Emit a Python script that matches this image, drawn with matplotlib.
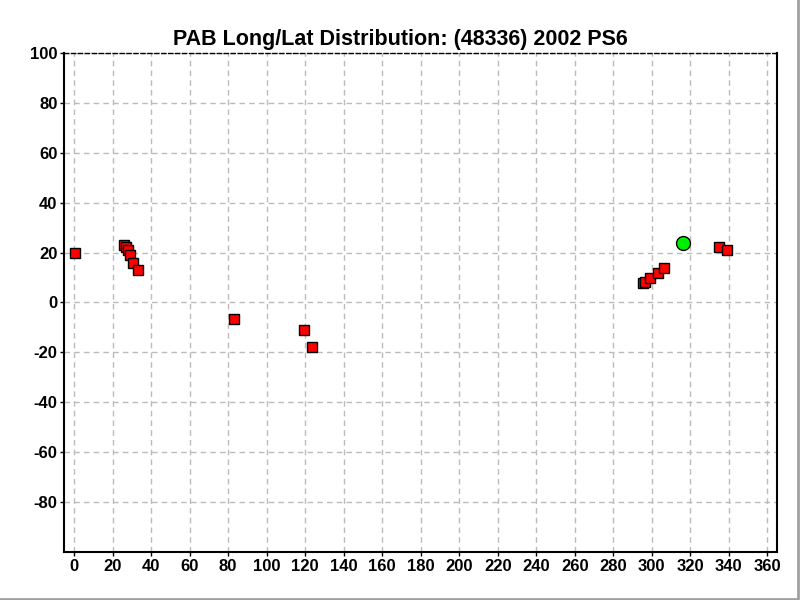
import matplotlib
matplotlib.use('Agg')
import matplotlib.pyplot as plt
from matplotlib.lines import Line2D

plt.rcParams['font.family'] = ['Liberation Sans', 'DejaVu Sans']
plt.rcParams['axes.unicode_minus'] = False

# observed longitude / latitude (PAB)
lon = [0.7, 26.1, 27.0, 27.9, 28.8, 30.8, 33.3, 83.2, 119.5, 123.7,
       295.3, 296.3, 299.0, 303.2, 306.3, 334.9, 339.0]
lat = [20.0, 23.0, 22.1, 21.0, 18.9, 15.8, 12.9, -6.6, -11.0, -17.8,
       7.8, 8.2, 9.7, 11.7, 13.7, 22.2, 21.0]

# current position
cur_lon = [316.4]
cur_lat = [23.8]

xticks = list(range(0, 361, 20))
yticks = list(range(-80, 101, 20))

fig = plt.figure(figsize=(8, 6), dpi=100)
ax = fig.add_axes([0.0806, 0.08, 0.8906, 0.8317])

ax.plot(lon, lat, 's', color='red', markeredgecolor='black',
        markersize=7.5, markeredgewidth=1.0, zorder=3)
ax.plot(cur_lon, cur_lat, 'o', color='#00ee00', markeredgecolor='black',
        markersize=10, markeredgewidth=1.0, zorder=4)

ax.set_xlim(-5, 365)
ax.set_ylim(-100, 100)
ax.set_xticks(xticks)
ax.set_yticks(yticks)
ax.grid(True, color='#bbbbbb', linestyle=(0, (4, 3)), linewidth=1.0)
ax.set_axisbelow(True)

for lab in ax.get_xticklabels() + ax.get_yticklabels():
    lab.set_fontweight('bold')
    lab.set_fontsize(12)
ax.tick_params(direction='out', length=3, width=1, pad=2)

ax.spines['left'].set_linewidth(1.5)
ax.spines['bottom'].set_linewidth(1.5)
ax.spines['right'].set_linewidth(1.5)
ax.spines['top'].set_linewidth(1.0)
ax.spines['top'].set_linestyle((0, (3, 2)))

fig.text(0.5, 0.935, 'PAB Long/Lat Distribution: (48336) 2002 PS6',
         fontsize=15.5, fontweight='bold', ha='center', va='center')

# thin grey frame at the right and bottom of the window
fig.add_artist(Line2D([0, 0.9975, 0.9975], [0.0025, 0.0025, 1],
                      transform=fig.transFigure, color='#a0a0a0', linewidth=2))

fig.savefig('out.png', dpi=100)
